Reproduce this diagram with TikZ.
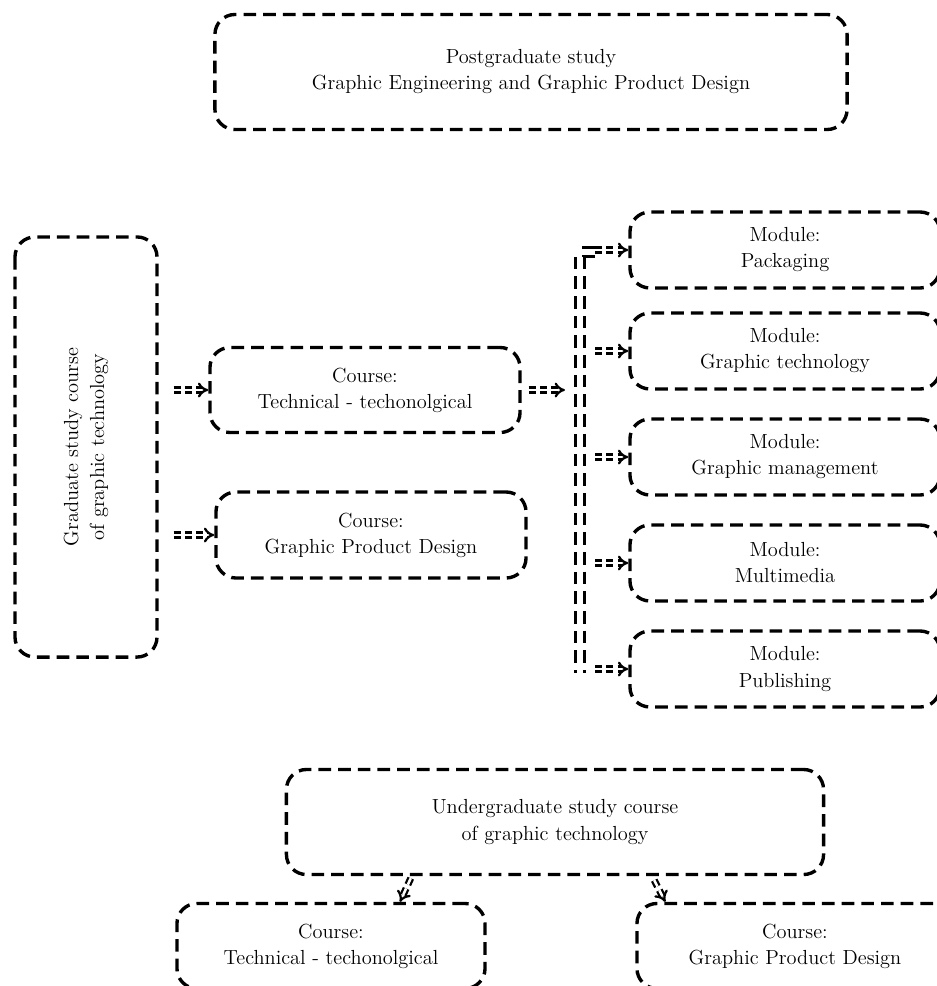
\documentclass[tikz,border=0pt]{standalone}
\usetikzlibrary{arrows.meta}

\tikzset{
	box/.style = {draw, line width = 2.4pt, dash pattern = on 9pt off 5pt,
		rounded corners = 0.5cm, align = center, inner sep = 0pt,
		font = \fontsize{14.5}{18.5}\selectfont},
	link/.style = {double, line width = 1.6pt, double distance = 1.8pt,
		dash pattern = on 5pt off 3pt, -{Implies[width = 9pt, length = 4.5pt]}},
	rail/.style = {double, line width = 2.4pt, double distance = 4.4pt,
		dash pattern = on 9pt off 5pt}
}

\begin{document}
\begin{tikzpicture}[x = 0.025cm, y = -0.025cm]

	% Frame
	
	\useasboundingbox (0, 0) rectangle (936, 986);
	
	% Postgraduate level
	
	\node [box, minimum width = 15.8cm, minimum height = 2.875cm] (post) at (531, 72)
		{Postgraduate study\\ Graphic Engineering and Graphic Product Design};
	
	% Graduate level
	
	\node [box, rotate = 90, minimum width = 10.5cm, minimum height = 3.55cm] (grad) at (86, 447)
		{Graduate study course\\ of graphic technology};
	\node [box, minimum width = 7.75cm, minimum height = 2.125cm] (gtech) at (365, 390)
		{Course:\\ Technical - techonolgical};
	\node [box, minimum width = 7.75cm, minimum height = 2.15cm] (gdesign) at (371, 535)
		{Course:\\ Graphic Product Design};
	
	\draw [link, shorten <= 0.375cm] (gtech.west -| grad.south) -- (gtech.west);
	\draw [link, shorten <= 0.375cm] (gdesign.west -| grad.south) -- (gdesign.west);
	
	% Rail to the modules
	
	\coordinate (railtop) at (595, 252);
	\coordinate (railend) at (580, 673);
	\draw [rail] (railtop) -| (railend);
	\draw [link, shorten <= 0.175cm, shorten >= 0.375cm] (gtech.east) -- (gtech.east -| railend);
	
	% Modules
	
	\foreach \txt/\y [count = \i] in {Packaging/250, Graphic technology/351,
		Graphic management/457, Multimedia/563, Publishing/669}
	{
		\node [box, minimum width = 7.75cm, minimum height = 1.9cm] (mod\i) at (785, \y)
			{Module:\\ \txt};
		\draw [link, shorten <= 0.375cm] (mod\i.west -| railend) -- (mod\i.west);
	}
	
	% Undergraduate level
	
	\node [box, minimum width = 13.425cm, minimum height = 2.625cm] (under) at (555, 822)
		{Undergraduate study course\\ of graphic technology};
	\node [box, minimum width = 7.7cm, minimum height = 2.125cm] (utech) at (331, 946)
		{Course:\\ Technical - techonolgical};
	\node [box, minimum width = 7.9cm, minimum height = 2.125cm] (udesign) at (795, 946)
		{Course:\\ Graphic Product Design};
	
	\draw [link] ([xshift = 3.15cm, yshift = -0.05cm] under.south west) -- ([xshift = 1.725cm] utech.north);
	\draw [link] ([xshift = -4.275cm, yshift = -0.1cm] under.south east) -- ([xshift = 0.75cm] udesign.north west);

\end{tikzpicture}
\end{document}
